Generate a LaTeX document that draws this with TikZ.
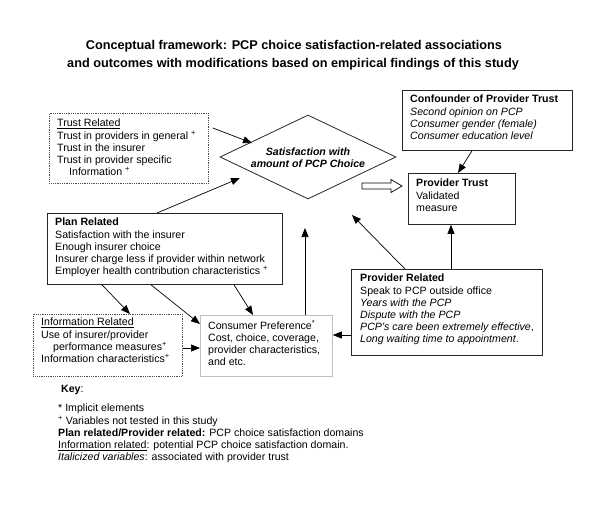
\documentclass[tikz,border=0pt]{standalone}
\usepackage{fontspec}
\setmainfont{Liberation Sans}
\usetikzlibrary{arrows.meta,shapes.geometric,calc}
\newcommand{\sps}{\textsuperscript{+}}
\begin{document}
\begin{tikzpicture}[x=1pt,y=-1pt,
  boxsolid/.style={draw=black!85, line width=0.8pt, inner sep=0pt, anchor=north west},
  boxdotted/.style={draw=black!70, densely dotted, line width=0.8pt, inner sep=0pt, anchor=north west},
  boxgray/.style={draw=black!25, line width=0.8pt, inner sep=0pt, anchor=north west},
  txt/.style={anchor=north west, inner sep=0pt, align=left, font=\fontsize{10.6}{12.2}\selectfont},
  arr/.style={-{Triangle[length=9pt,width=7pt]}, line width=0.7pt},
  ttl/.style={font=\fontsize{12.7}{18}\selectfont\bfseries, inner sep=0pt}
]
\useasboundingbox (0,0) rectangle (600,507);

% title
\node[ttl] (title1) at (294,46) {Conceptual framework: PCP choice satisfaction-related associations};
\node[ttl] (title2) at (293,64) {and outcomes with modifications based on empirical findings of this study};

% boxes
\node[boxdotted, minimum width=159, minimum height=70] (trust) at (49,113) {};
\node[txt] (trusttxt) at (57,119) {\underline{Trust Related}\\Trust in providers in general \sps\\Trust in the insurer\\Trust in provider specific\\\hspace*{12pt}Information \sps};

\node[draw=black!85, line width=0.8pt, diamond, inner sep=0pt, minimum width=176, minimum height=84] (sat) at (308,157) {};
\node[align=center, inner sep=0pt, font=\fontsize{10.6}{11.5}\selectfont\bfseries\itshape] (sattxt) at (308,157.5) {Satisfaction with\\amount of PCP Choice};

\node[boxsolid, minimum width=170, minimum height=60] (conf) at (402,90) {};
\node[txt] (conftxt) at (410,95) {\textbf{Confounder of Provider Trust}\\\textit{Second opinion on PCP}\\\textit{Consumer gender (female)}\\\textit{Consumer education level}};

\node[boxsolid, minimum width=107, minimum height=51] (ptrust) at (408,173) {};
\node[txt] (ptrusttxt) at (416,179) {\textbf{Provider Trust}\\Validated\\measure};

\node[boxsolid, minimum width=235, minimum height=71] (plan) at (47,213) {};
\node[txt] (plantxt) at (55,218) {\textbf{Plan Related}\\Satisfaction with the insurer\\Enough insurer choice\\Insurer charge less if provider within network\\Employer health contribution characteristics \sps};

\node[boxdotted, minimum width=149, minimum height=62] (info) at (33,314) {};
\node[txt] (infotxt) at (41,318) {\underline{Information Related}\\Use of insurer/provider\\\hspace*{12pt}performance measures\sps\\Information characteristics\sps};

\node[boxgray, minimum width=132, minimum height=61] (cons) at (200,315) {};
\node[txt] (constxt) at (208,320) {Consumer Preference\textsuperscript{*}\\Cost, choice, coverage,\\provider characteristics,\\and etc.};

\node[boxsolid, minimum width=191, minimum height=86] (prov) at (351,269) {};
\node[txt] (provtxt) at (360,274) {\textbf{Provider Related}\\Speak to PCP outside office\\\textit{Years with the PCP}\\\textit{Dispute with the PCP}\\\textit{PCP's care been extremely effective},\\\textit{Long waiting time to appointment}.};

% key
\node[txt] (key) at (61,385) {\textbf{Key}:};
\node[txt] (keytxt) at (58,404) {* Implicit elements\\\sps\ Variables not tested in this study\\\textbf{Plan related/Provider related:} PCP choice satisfaction domains\\\underline{Information related}: potential PCP choice satisfaction domain.\\\textit{Italicized variables}: associated with provider trust};

% free tips
\coordinate (tipA) at (252,143);
\coordinate (tipB) at (240,178);
\coordinate (tipC) at (305,228);
\coordinate (tipD) at (352,215);

% connectors
\draw[arr] ($(trust.north east)+(4,15)$) -- (tipA);
\draw[arr] ($(plan.north west)+(110,0)$) -- (tipB);
\draw[arr] ($(plan.south west)+(55,0)$) -- ($(info.north west)+(97,0)$);
\draw[arr] ($(plan.south west)+(104,0)$) -- ($(cons.north west)+(0,9)$);
\draw[arr] ($(plan.south west)+(187,0)$) -- ($(cons.north west)+(53,0)$);
\draw[arr] ($(info.north east)+(0,34)$) -- ($(cons.north west)+(0,33)$);
\draw[arr] ($(cons.north west)+(105,0)$) -- (tipC);
\draw[arr] ($(prov.north west)+(0,66)$) -- ($(cons.north east)+(0,20)$);
\draw[arr] ($(prov.north west)+(54,0)$) -- (tipD);
\draw[arr] ($(prov.north west)+(100,0)$) -- (ptrust.south -| 451,0);
\draw[arr] ($(conf.south west)+(70,0)$) -- ($(ptrust.north west)+(50,0)$);

% hollow block arrow
\draw[line width=0.7pt, fill=white] (362,183) -- (391,183) -- (391,179.5) -- (402,186) -- (391,192.5) -- (391,189) -- (362,189) -- cycle;
\end{tikzpicture}
\end{document}
